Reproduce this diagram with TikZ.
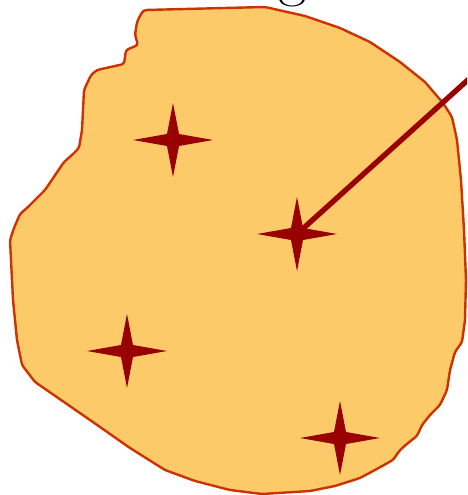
\documentclass[tikz,border=0pt]{standalone}
\usetikzlibrary{calc}
\definecolor{blobfill}{RGB}{253,202,106}
\definecolor{blobedge}{RGB}{204,51,0}
\definecolor{stardark}{RGB}{153,0,0}
\tikzset{
  blob/.style={fill=blobfill, draw=blobedge, line width=1.8pt, rounded corners=2pt, line join=round},
  sparkle/.pic={\fill[stardark] (40,0) -- (6,-6) -- (0,-37) -- (-6,-6) -- (-40,0) -- (-6,6) -- (0,37) -- (6,6) -- cycle;},
  pointer/.style={draw=stardark, line width=4pt}
}
\begin{document}
\begin{tikzpicture}[x=0.75pt,y=-0.75pt]
\useasboundingbox (0,0) rectangle (467,495);
\clip (0,0) rectangle (467,495);
\node[anchor=base, font=\fontsize{46}{50}\selectfont, inner sep=0pt] (lbl) at (293,-5) {g};
\path[blob] (145,10) -- (265,7) -- (305,16) -- (340,28) -- (370,42) -- (400,62) -- (425,82) -- (443,103) -- (452,117) -- (457,140) -- (461,180) -- (464,230) -- (466,280) -- (465,320) -- (462,342) -- (455,352) -- (450,370) -- (447,390) -- (440,405) -- (430,415) -- (422,425) -- (417,436) -- (408,443) -- (400,450) -- (393,460) -- (375,470) -- (360,478) -- (335,486) -- (310,491) -- (262,494) -- (230,490) -- (195,481) -- (165,470) -- (130,448) -- (90,420) -- (35,382) -- (22,365) -- (17,340) -- (13,300) -- (10,240) -- (14,228) -- (20,214) -- (28,207) -- (45,190) -- (64,162) -- (72,155) -- (79,148) -- (82,130) -- (84,90) -- (91,75) -- (97,70) -- (124,64) -- (126,50) -- (138,45) -- (135,35) -- (137,22) -- (142,12) -- cycle;
\coordinate (s1) at (173,140);
\coordinate (s2) at (297,234);
\coordinate (s3) at (127,351);
\coordinate (s4) at (340,438);
\coordinate (tail) at (480,69);
\pic at (s1) {sparkle};
\pic at (s2) {sparkle};
\pic at (s3) {sparkle};
\pic at (s4) {sparkle};
\draw[pointer] (tail) -- (s2);
\end{tikzpicture}
\end{document}
